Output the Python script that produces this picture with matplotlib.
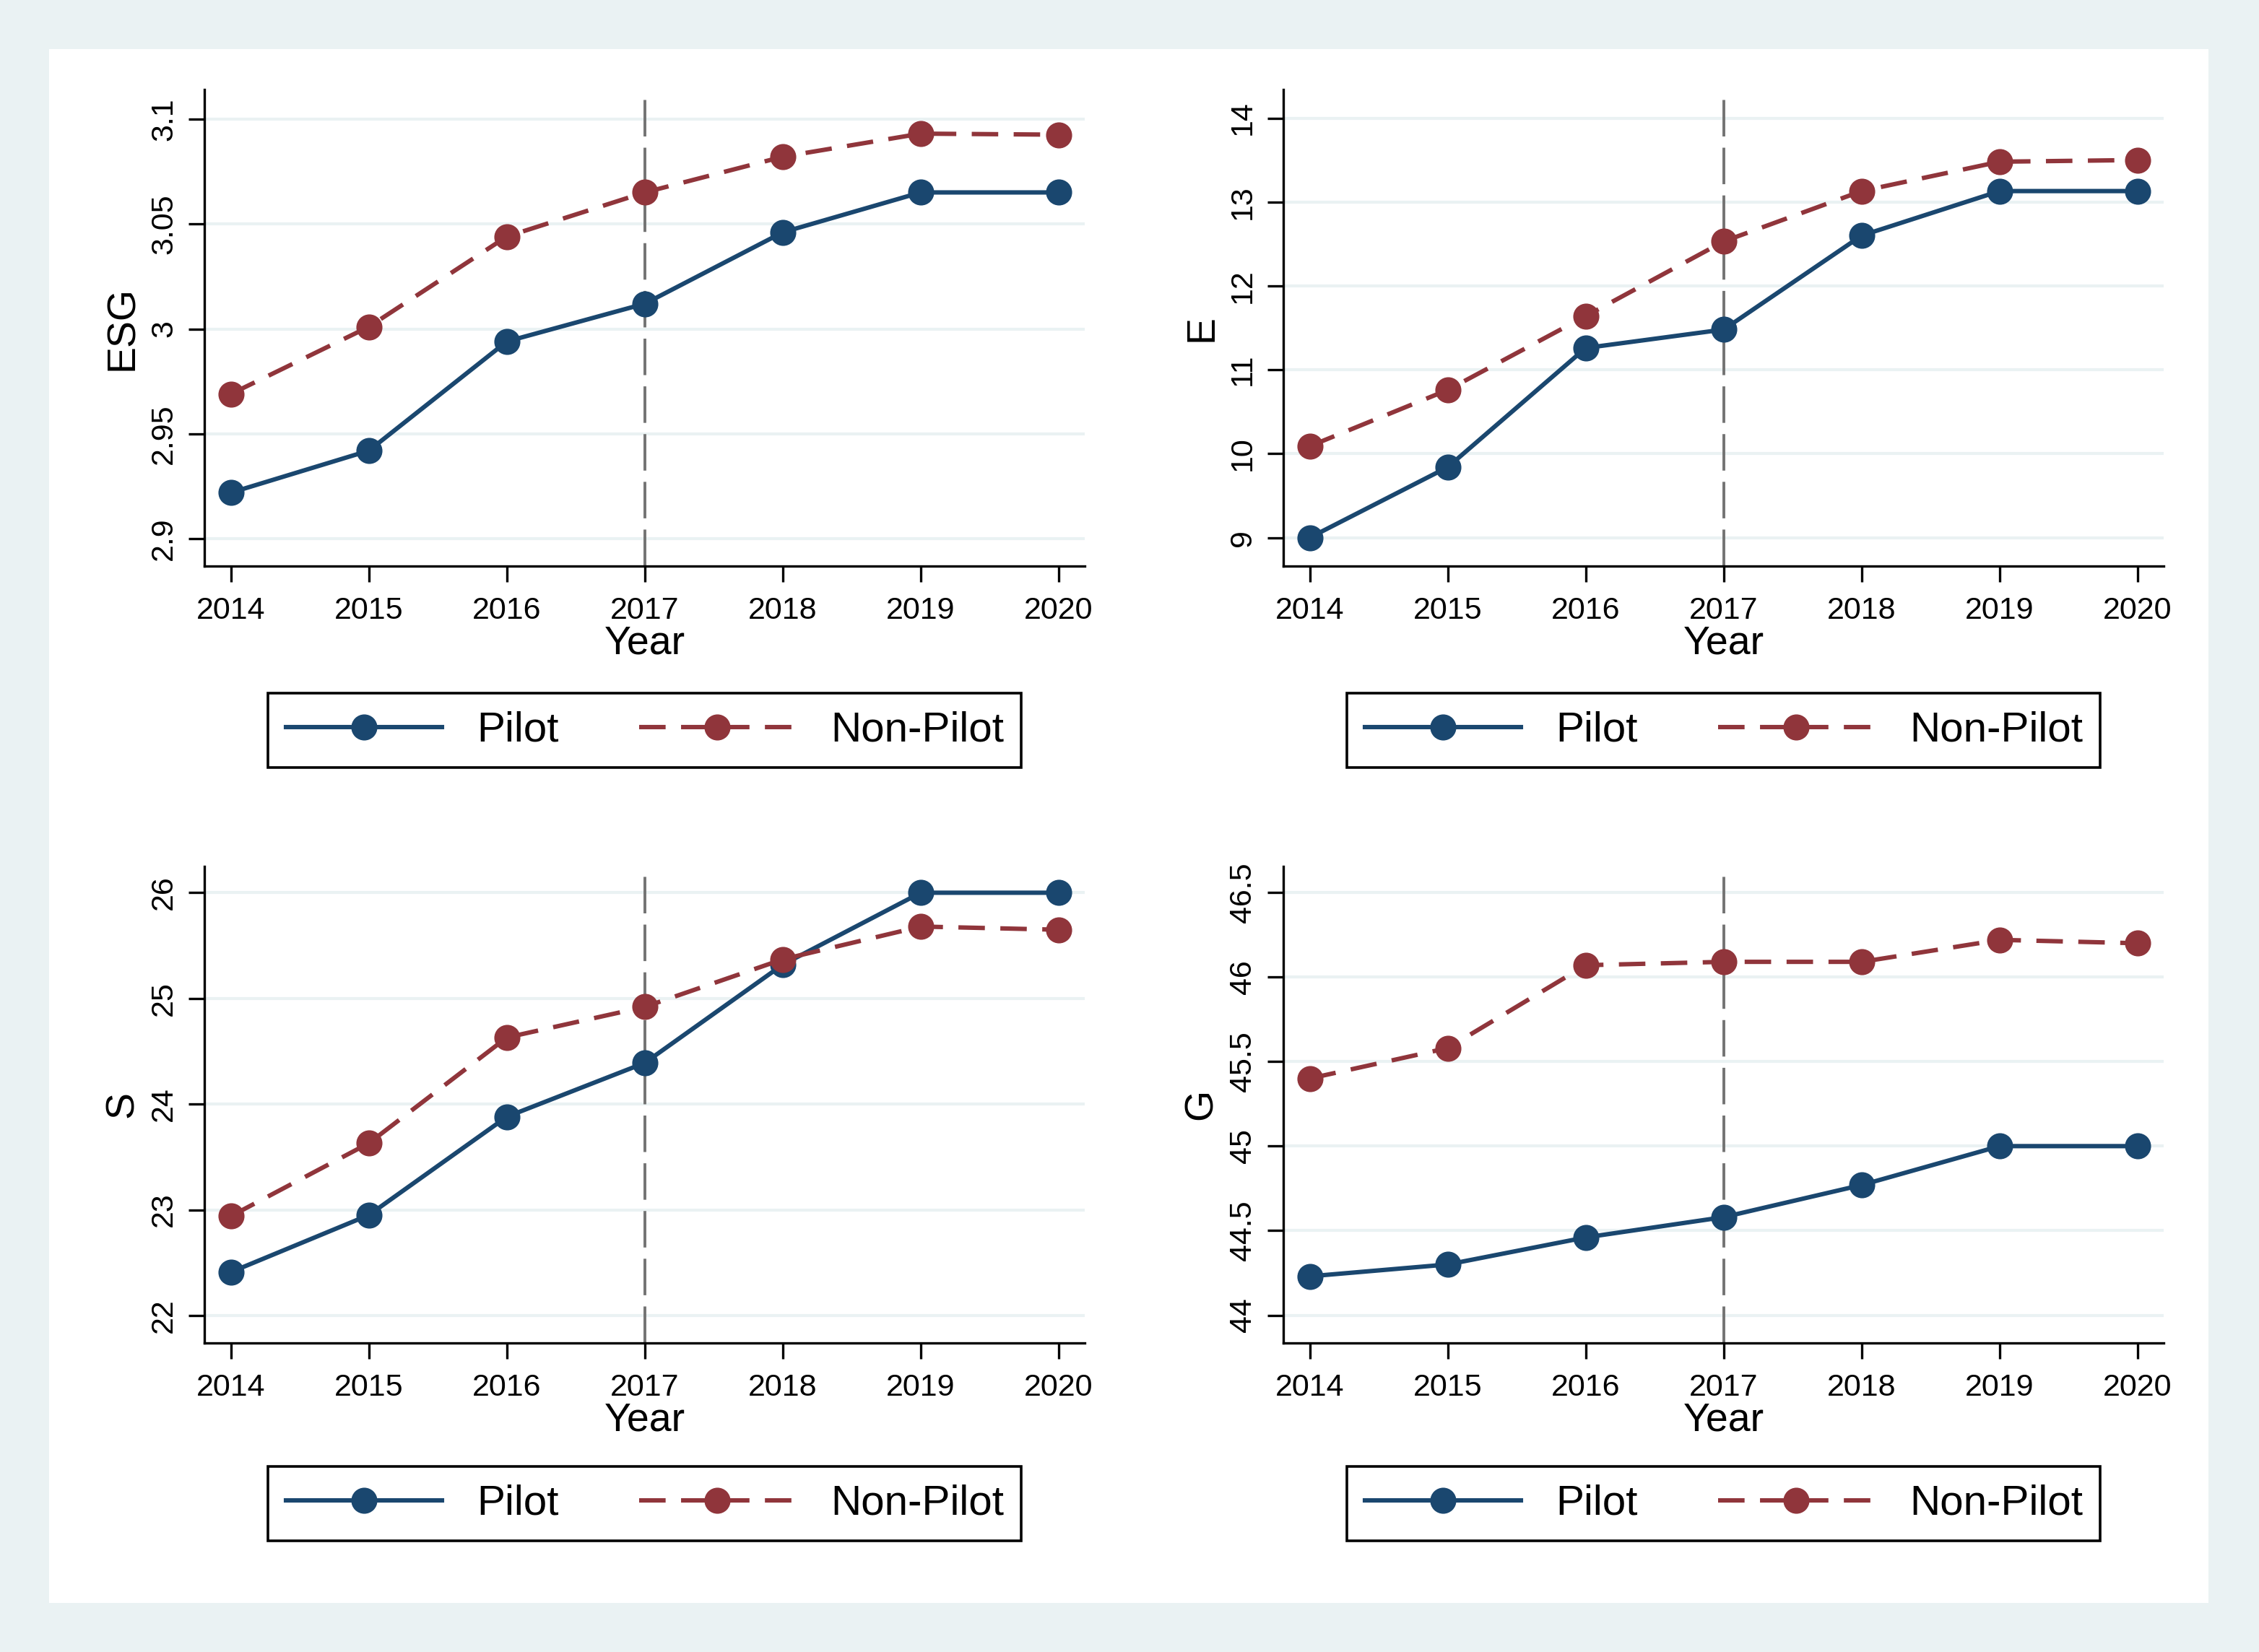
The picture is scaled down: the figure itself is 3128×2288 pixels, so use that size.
import matplotlib
matplotlib.use("Agg")
import matplotlib.pyplot as plt
from matplotlib.patches import Rectangle
from matplotlib.ticker import FuncFormatter

plt.rcParams['font.family'] = ['Liberation Sans', 'DejaVu Sans']

years = [2014, 2015, 2016, 2017, 2018, 2019, 2020]

esg_pilot = [2.922, 2.942, 2.994, 3.012, 3.046, 3.065, 3.065]
esg_nonpilot = [2.969, 3.001, 3.044, 3.065, 3.082, 3.093, 3.0925]
e_pilot = [9.0, 9.84, 11.26, 11.48, 12.60, 13.13, 13.13]
e_nonpilot = [10.09, 10.76, 11.64, 12.53, 13.13, 13.48, 13.50]
s_pilot = [22.41, 22.95, 23.88, 24.39, 25.32, 26.0, 26.0]
s_nonpilot = [22.94, 23.63, 24.63, 24.92, 25.37, 25.68, 25.65]
g_pilot = [44.23, 44.30, 44.46, 44.58, 44.77, 45.0, 45.0]
g_nonpilot = [45.40, 45.58, 46.07, 46.09, 46.09, 46.22, 46.20]

esg_ticks = [2.9, 2.95, 3.0, 3.05, 3.1]
e_ticks = [9, 10, 11, 12, 13, 14]
s_ticks = [22, 23, 24, 25, 26]
g_ticks = [44, 44.5, 45, 45.5, 46, 46.5]

policy_year = 2017

navy = "#1A476F"
maroon = "#90353B"
bg = "#EAF2F3"

fig = plt.figure(figsize=(15.64, 11.44), dpi=200, facecolor=bg)
fig.patches.append(Rectangle((0.0217, 0.0297), 0.956, 0.9406, transform=fig.transFigure,
                             facecolor="white", edgecolor="none", zorder=-10))

panels = [
    ("ESG", esg_pilot, esg_nonpilot, esg_ticks, (2.887, 3.114), 0.0906, 0.6573),
    ("E", e_pilot, e_nonpilot, e_ticks, (8.66, 14.34), 0.5682, 0.6573),
    ("S", s_pilot, s_nonpilot, s_ticks, (21.74, 26.25), 0.0906, 0.1871),
    ("G", g_pilot, g_nonpilot, g_ticks, (43.836, 46.655), 0.5682, 0.1871),
]
w, h = 0.3897, 0.2885

for name, pilot, nonpilot, ticks, ylim, x0, y0 in panels:
    ax = fig.add_axes([x0, y0, w, h])
    ax.set_facecolor("white")
    for t in ticks:
        ax.axhline(t, color=bg, lw=1.5, zorder=0)
    ax.axvline(policy_year, color="#737373", lw=1.4, dashes=(13, 4), zorder=1)
    ax.plot(years, pilot, color=navy, lw=2.2, marker="o", markersize=12, label="Pilot", zorder=3)
    ax.plot(years, nonpilot, color=maroon, lw=2.2, marker="o", markersize=12,
            dashes=(6, 3.5), label="Non-Pilot", zorder=3)

    ax.set_xlim(2013.81, 2020.19)
    ax.set_ylim(*ylim)
    ax.set_xticks(years)
    ax.set_yticks(ticks)
    ax.yaxis.set_major_formatter(FuncFormatter(lambda v, p: f"{v:g}"))
    for lab in ax.get_yticklabels():
        lab.set_rotation(90)
        lab.set_va("center")
    ax.tick_params(axis="both", labelsize=15.5, width=1.2, length=8, color="black")
    ax.tick_params(axis="x", pad=7)
    ax.tick_params(axis="y", pad=5)
    ax.spines["top"].set_visible(False)
    ax.spines["right"].set_visible(False)
    ax.spines["left"].set_linewidth(1.2)
    ax.spines["bottom"].set_linewidth(1.2)
    ax.set_xlabel("Year", fontsize=20, labelpad=0)
    ax.set_ylabel(name, fontsize=20, labelpad=4)

    leg_y = 0.5577 if y0 > 0.5 else 0.0896
    leg = ax.legend(loc="center", bbox_to_anchor=(x0 + w / 2, leg_y), bbox_transform=fig.transFigure,
                    ncol=2, fontsize=21, frameon=True, fancybox=False, framealpha=1,
                    edgecolor="black", handlelength=3.7, handletextpad=0.84, columnspacing=1.9,
                    borderpad=0.42, borderaxespad=0)
    leg.get_frame().set_linewidth(1.3)

plt.savefig("out.png", dpi=200, facecolor=bg)
